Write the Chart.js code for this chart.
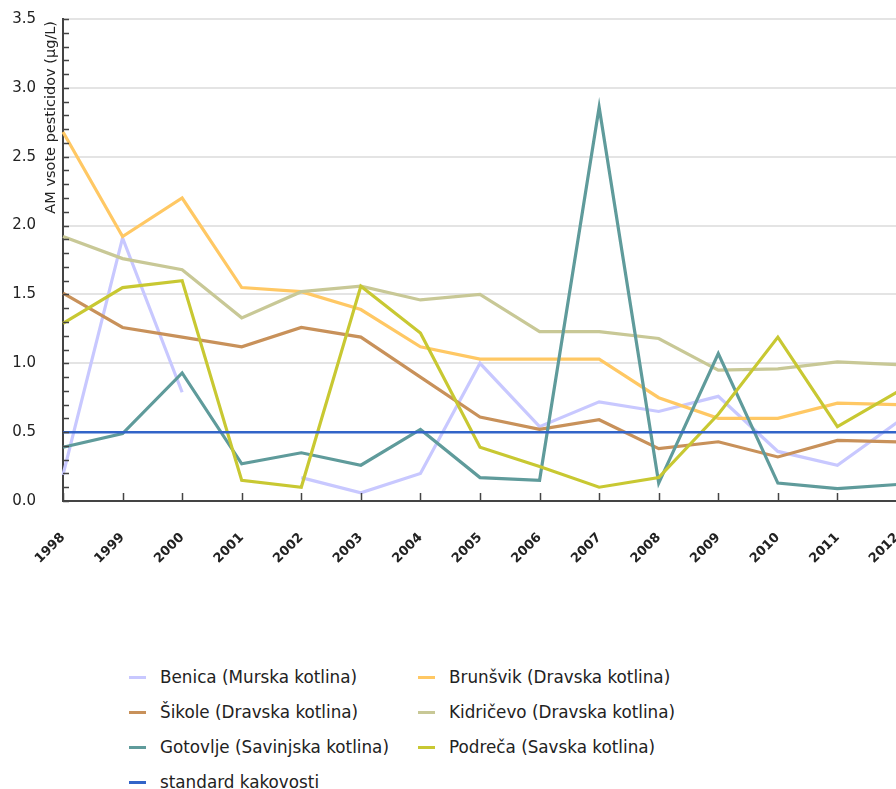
<!DOCTYPE html>
<html>
<head>
<meta charset="utf-8">
<script src="https://cdn.jsdelivr.net/npm/chart.js@4/dist/chart.umd.min.js"></script>
<style>
  html, body { margin: 0; padding: 0; background: #fff; overflow: hidden; }
  #wrap { position: relative; width: 896px; height: 789px; overflow: hidden; }
  #chart { position: absolute; left: 0; top: 0; }
  #legend {
    position: absolute; left: 129px; top: 664px;
    display: grid; grid-template-columns: 289px 300px; grid-auto-rows: 35px;
    font-family: "DejaVu Sans", sans-serif; font-size: 16.8px; color: #222;
  }
  .item { display: flex; align-items: center; height: 26px; white-space: nowrap; }
  .swatch { width: 17px; height: 3px; margin-right: 14px; flex: none; }
</style>
</head>
<body>
<div id="wrap">
  <canvas id="chart" width="900" height="600"></canvas>
  <div id="legend"></div>
</div>
<script>
// Years on the horizontal axis
const years = ['1998','1999','2000','2001','2002','2003','2004','2005','2006','2007','2008','2009','2010','2011','2012'];

// Mean of pesticide sums per monitoring site (µg/L)
const benica    = [0.19, 1.91, 0.79, null, 0.17, 0.06, 0.20, 1.00, 0.54, 0.72, 0.65, 0.76, 0.36, 0.26, 0.57];
const brunsvik  = [2.68, 1.92, 2.20, 1.55, 1.52, 1.39, 1.12, 1.03, 1.03, 1.03, 0.75, 0.60, 0.60, 0.71, 0.70];
const sikole    = [1.51, 1.26, 1.19, 1.12, 1.26, 1.19, 0.90, 0.61, 0.52, 0.59, 0.38, 0.43, 0.32, 0.44, 0.43];
const kidricevo = [1.92, 1.76, 1.68, 1.33, 1.52, 1.56, 1.46, 1.50, 1.23, 1.23, 1.18, 0.95, 0.96, 1.01, 0.99];
const gotovlje  = [0.39, 0.49, 0.93, 0.27, 0.35, 0.26, 0.52, 0.17, 0.15, 2.86, 0.13, 1.07, 0.13, 0.09, 0.12];
const podreca   = [1.29, 1.55, 1.60, 0.15, 0.10, 1.56, 1.22, 0.39, 0.25, 0.10, 0.17, 0.63, 1.19, 0.54, 0.79];
const standard  = [0.5, 0.5, 0.5, 0.5, 0.5, 0.5, 0.5, 0.5, 0.5, 0.5, 0.5, 0.5, 0.5, 0.5, 0.5];

const seriesNames = [
  'Benica (Murska kotlina)',
  'Brunšvik (Dravska kotlina)',
  'Šikole (Dravska kotlina)',
  'Kidričevo (Dravska kotlina)',
  'Gotovlje (Savinjska kotlina)',
  'Podreča (Savska kotlina)',
  'standard kakovosti'
];
const seriesValues = [benica, brunsvik, sikole, kidricevo, gotovlje, podreca, standard];
const seriesColors = ['#c8c8ff', '#ffc864', '#c8915a', '#c8c896', '#5f9b9b', '#c8c832', '#3264c8'];

// Y axis range and tick labels
const yMin = 0, yMax = 3.5, yStep = 0.5, yMinorStep = 0.1;
const yTitle = 'AM vsote pesticidov (µg/L)';

const PLOT_TOP = 19, PLOT_BOTTOM = 501, PLOT_LEFT = 63;
const AXIS_COLOR = '#444';

const datasets = seriesNames.map((name, i) => ({
  label: name,
  data: seriesValues[i],
  borderColor: seriesColors[i],
  backgroundColor: seriesColors[i],
  borderWidth: i === 6 ? 2.5 : 3.2,
  pointRadius: 0,
  pointHoverRadius: 0,
  tension: 0,
  spanGaps: false,
  order: seriesNames.length - i
}));

// Inside tick marks on both axes plus the rotated y-axis title
const axisDecor = {
  id: 'axisDecor',
  afterDraw(chart) {
    const ctx = chart.ctx;
    const x = chart.scales.x, y = chart.scales.y;
    ctx.save();
    ctx.strokeStyle = AXIS_COLOR;
    ctx.lineWidth = 1.5;
    ctx.beginPath();
    for (let v = yMin; v <= yMax + 1e-9; v += yMinorStep) {
      const py = Math.round(y.getPixelForValue(v)) + 0.5;
      ctx.moveTo(x.left, py);
      ctx.lineTo(x.left + 6, py);
    }
    for (let i = 0; i < years.length; i++) {
      const px = Math.round(x.getPixelForValue(i)) + 0.5;
      ctx.moveTo(px, y.bottom);
      ctx.lineTo(px, y.bottom - 8);
    }
    ctx.stroke();

    ctx.translate(51, y.top + 2);
    ctx.rotate(-Math.PI / 2);
    ctx.fillStyle = '#222';
    ctx.font = '14.5px "DejaVu Sans"';
    ctx.textAlign = 'right';
    ctx.textBaseline = 'middle';
    ctx.fillText(yTitle, 0, 0);
    ctx.restore();
  }
};

new Chart(document.getElementById('chart'), {
  type: 'line',
  data: { labels: years, datasets },
  plugins: [axisDecor],
  options: {
    responsive: false,
    animation: false,
    layout: { padding: { top: PLOT_TOP, right: 3, left: 0, bottom: 0 } },
    plugins: { legend: { display: false }, tooltip: { enabled: false } },
    scales: {
      x: {
        type: 'category',
        offset: false,
        grid: { display: false, drawTicks: false },
        border: { display: true, color: AXIS_COLOR, width: 2 },
        ticks: {
          autoSkip: false,
          minRotation: 45,
          maxRotation: 45,
          padding: 29,
          color: '#222',
          font: { family: 'DejaVu Sans', size: 13, weight: 'bold' }
        },
        afterFit(scale) {
          scale.height = 600 - PLOT_BOTTOM;
          scale.paddingLeft = 0;
          scale.paddingRight = 0;
          scale.paddingTop = 0;
          scale.paddingBottom = 0;
        }
      },
      y: {
        min: yMin,
        max: yMax,
        grid: { color: '#e4e4e4', lineWidth: 2, drawTicks: false },
        border: { display: true, color: AXIS_COLOR, width: 2 },
        ticks: {
          stepSize: yStep,
          padding: 27,
          color: '#222',
          font: { family: 'DejaVu Sans', size: 15 },
          callback: (v) => Number(v).toFixed(1)
        },
        afterFit(scale) {
          scale.width = PLOT_LEFT;
          scale.paddingTop = 0;
          scale.paddingBottom = 0;
        }
      }
    }
  }
});

// Legend: two columns, filled row by row
const legend = document.getElementById('legend');
seriesNames.forEach((name, i) => {
  const item = document.createElement('div');
  item.className = 'item';
  const sw = document.createElement('span');
  sw.className = 'swatch';
  sw.style.background = seriesColors[i];
  const txt = document.createElement('span');
  txt.textContent = name;
  item.appendChild(sw);
  item.appendChild(txt);
  legend.appendChild(item);
});
</script>
</body>
</html>
